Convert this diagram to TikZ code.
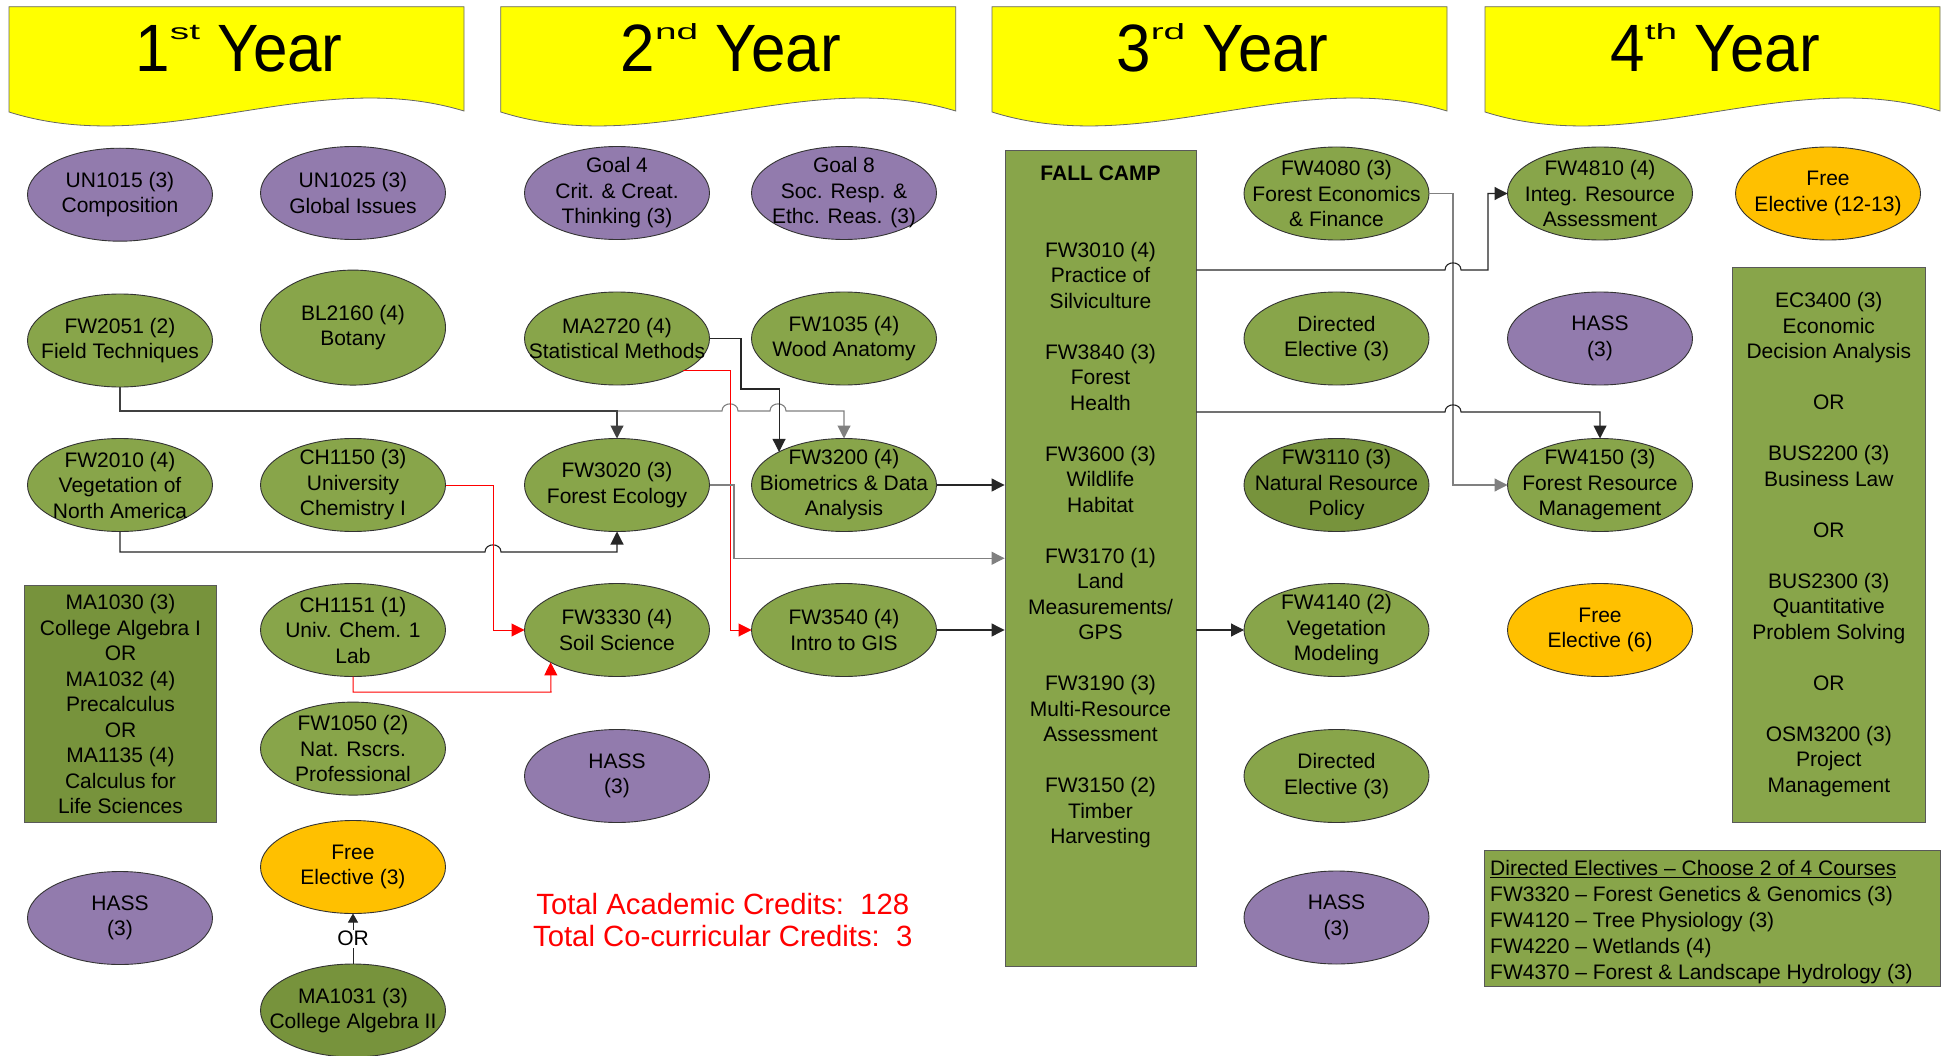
\documentclass[tikz,border=0pt]{standalone}
\usepackage{graphicx}
\usepackage{fontspec}
\setmainfont{Liberation Sans}
\usetikzlibrary{shapes.geometric,arrows.meta,calc}
\definecolor{cgreen}{HTML}{88A54A}
\definecolor{cdark}{HTML}{77933C}
\definecolor{cpurple}{HTML}{927BAD}
\definecolor{corange}{HTML}{FFC000}
\definecolor{cyellow}{HTML}{FFFF00}
\newcommand\crsfont{\fontsize{21}{25.5}\selectfont}
\begin{document}
\begin{tikzpicture}[x=1pt,y=-1pt,
 lbl/.style={align=center,font=\crsfont,inner sep=0pt},
 crs/.style={ellipse,draw=black!80,line width=0.9pt,minimum width=185pt,minimum height=93pt,inner sep=0pt,outer sep=0pt,label={[lbl]center:{#1}}},
 gr/.style={crs={#1},fill=cgreen},
 dk/.style={crs={#1},fill=cdark},
 pu/.style={crs={#1},fill=cpurple},
 og/.style={crs={#1},fill=corange},
 box/.style={draw=black!65,line width=0.9pt,fill=cgreen,inner sep=0pt,align=center,font=\crsfont},
 conn/.style={draw=black!85,line width=1.1pt,-{Triangle[length=13pt,width=13pt]}},
 grayc/.style={conn,draw=black!50},
 redc/.style={conn,draw=red,line width=1pt},
 smallc/.style={draw=black!85,line width=0.8pt,-{Triangle[length=9pt,width=10pt]}}
]
\fill[white] (0,0) rectangle (1950,1056);
\useasboundingbox (0,0) rectangle (1950,1056);

% year banners
\foreach \lx/\yn/\ysup in {9/1/st,500.7/2/nd,992/3/rd,1485/4/th}{
  \filldraw[fill=cyellow,draw=black!60,line width=0.8pt]
    (\lx,6.7) -- ({\lx+455},6.7) -- ({\lx+455},111)
    .. controls ({\lx+303.3},65) and ({\lx+151.7},160) .. (\lx,112) -- cycle;
  \node[anchor=base,font=\fontsize{62}{62}\selectfont,inner sep=0pt] (title\yn) at ({\lx+230},71.7)
    {\scalebox{1}[1.08]{\yn\raisebox{30pt}{\scalebox{1.9}[1]{\fontsize{20.4}{20.4}\selectfont\ysup}} Year}};
}

% year 1
\node[pu={UN1015 (3)\\Composition}] (un1015) at (120,194.7) {};
\node[gr={FW2051 (2)\\Field Techniques}] (fw2051) at (120,340.5) {};
\node[gr={FW2010 (4)\\Vegetation of\\North America}] (fw2010) at (120,485) {};
\node[box,fill=cdark,minimum width=192.4pt,minimum height=237pt] (ma1030) at (120.5,704.1)
  {MA1030 (3)\\College Algebra I\\OR\\MA1032 (4)\\Precalculus\\OR\\MA1135 (4)\\Calculus for\\Life Sciences};
\node[pu={HASS\\(3)}] (hass1) at (120,918) {};

\node[pu={UN1025 (3)\\Global Issues}] (un1025) at (353,193) {};
\node[gr={BL2160 (4)\\Botany},minimum height=115pt] (bl2160) at (353,327.6) {};
\node[gr={CH1150 (3)\\University\\Chemistry I}] (ch1150) at (353,485) {};
\node[gr={CH1151 (1)\\Univ. Chem. 1\\Lab}] (ch1151) at (353,630) {};
\node[gr={FW1050 (2)\\Nat. Rscrs.\\Professional}] (fw1050) at (353,748.6) {};
\node[og={Free\\Elective (3)}] (free3) at (353,867) {};
\node[dk={MA1031 (3)\\College Algebra II}] (ma1031) at (353,1010.5) {};

% year 2
\node[pu={Goal 4\\Crit. \& Creat.\\Thinking (3)}] (goal4) at (617,193) {};
\node[gr={MA2720 (4)\\Statistical Methods}] (ma2720) at (617,338.5) {};
\node[gr={FW3020 (3)\\Forest Ecology}] (fw3020) at (617,485) {};
\node[gr={FW3330 (4)\\Soil Science}] (fw3330) at (617,630) {};
\node[pu={HASS\\(3)}] (hass2) at (617,776) {};

\node[pu={Goal 8\\Soc. Resp. \&\\Ethc. Reas. (3)}] (goal8) at (844,193) {};
\node[gr={FW1035 (4)\\Wood Anatomy}] (fw1035) at (844,338.5) {};
\node[gr={FW3200 (4)\\Biometrics \& Data\\Analysis}] (fw3200) at (844,485) {};
\node[gr={FW3540 (4)\\Intro to GIS}] (fw3540) at (844,630) {};

\node[font=\fontsize{29.3}{32.4}\selectfont,text=red,align=center,inner sep=0pt] (totals) at (722.8,920)
  {Total Academic Credits:\ \ 128\\Total Co-curricular Credits:\ \ 3};

% year 3
\node[box,minimum width=191pt,minimum height=815.5pt] (fall) at (1100.5,558.25) {};
\node[lbl,anchor=north] (falltxt) at (1100.5,166)
  {\textbf{FALL CAMP}\\[51pt]
   FW3010 (4)\\Practice of\\Silviculture\\[25.5pt]
   FW3840 (3)\\Forest\\Health\\[25.5pt]
   FW3600 (3)\\Wildlife\\Habitat\\[25.5pt]
   FW3170 (1)\\Land\\Measurements/\\GPS\\[25.5pt]
   FW3190 (3)\\Multi-Resource\\Assessment\\[25.5pt]
   FW3150 (2)\\Timber\\Harvesting};

\node[gr={FW4080 (3)\\Forest Economics\\\& Finance}] (fw4080) at (1336.5,193.5) {};
\node[gr={Directed\\Elective (3)}] (dir1) at (1336.5,338.5) {};
\node[dk={FW3110 (3)\\Natural Resource\\Policy}] (fw3110) at (1336.5,485) {};
\node[gr={FW4140 (2)\\Vegetation\\Modeling}] (fw4140) at (1336.5,630) {};
\node[gr={Directed\\Elective (3)}] (dir2) at (1336.5,776) {};
\node[pu={HASS\\(3)}] (hass3) at (1336.5,917.5) {};

% year 4
\node[gr={FW4810 (4)\\Integ. Resource\\Assessment}] (fw4810) at (1600,193.5) {};
\node[pu={HASS\\(3)}] (hass4) at (1600,338.5) {};
\node[gr={FW4150 (3)\\Forest Resource\\Management}] (fw4150) at (1600,485) {};
\node[og={Free\\Elective (6)}] (free6) at (1600,630) {};
\node[og={Free\\Elective (12-13)}] (free12) at (1828,193.5) {};
\node[box,minimum width=192.4pt,minimum height=555.6pt] (opts) at (1828.8,544.8)
  {EC3400 (3)\\Economic\\Decision Analysis\\[25.5pt]OR\\[25.5pt]BUS2200 (3)\\Business Law\\[25.5pt]OR\\[25.5pt]BUS2300 (3)\\Quantitative\\Problem Solving\\[25.5pt]OR\\[25.5pt]OSM3200 (3)\\Project\\Management};
\node[box,minimum width=456pt,minimum height=136pt] (dirbox) at (1712,918) {};
\node[lbl,align=left,anchor=north west,font=\fontsize{21}{26}\selectfont] (dirtxt) at (1490,860.2)
  {\underline{Directed Electives – Choose 2 of 4 Courses}\\
   FW3320 – Forest Genetics \& Genomics (3)\\
   FW4120 – Tree Physiology (3)\\
   FW4220 – Wetlands (4)\\
   FW4370 – Forest \& Landscape Hydrology (3)};

% connectors
\draw[grayc] (fw2051.south) |- (722,411)
  .. controls (722,401.5) and (738,401.5) .. (738,411) -- (770,411)
  .. controls (770,401.5) and (786,401.5) .. (786,411) -| (fw3200.north);
\draw[conn,draw=black!75] (fw2051.south) |- (617,411) -- (fw3020.north);
\draw[conn] (fw2010.south) |- (485,552)
  .. controls (485,542.5) and (501,542.5) .. (501,552) -| (fw3020.south);
\draw[conn] (ma2720.east) -| (741,389) -| (fw3200.153);
\draw[redc] (ma2720.-26.5) -| (730,630) -- (fw3540.west);
\draw[redc] (ch1150.east) -| (493,630) -- (fw3330.west);
\draw[redc] (ch1151.south) |- (551,692) -- (fw3330.206);
\draw[grayc] (fw3020.east) -| (734,558.25) -- (fall.west);
\draw[conn] (fw3200.east) -- (fall.west |- fw3200.east);
\draw[conn] (fw3540.east) -- (fall.west |- fw3540.east);
\draw[grayc] (fw4080.east) -| (1453,485) -- (fw4150.west);
\draw[conn] (fall.east |- 0,270) -- (1445,270)
  .. controls (1445,260.5) and (1461,260.5) .. (1461,270) -| (1488,193.5) -- (fw4810.west);
\draw[conn] (fall.east |- 0,412) -- (1445,412)
  .. controls (1445,402.5) and (1461,402.5) .. (1461,412) -| (fw4150.north);
\draw[conn] (fall.east |- fw4140.west) -- (fw4140.west);
\draw[smallc] (ma1031.north) -- node[fill=white,inner sep=1.5pt,font=\crsfont] (orlbl) {OR} (free3.south);
\end{tikzpicture}
\end{document}
